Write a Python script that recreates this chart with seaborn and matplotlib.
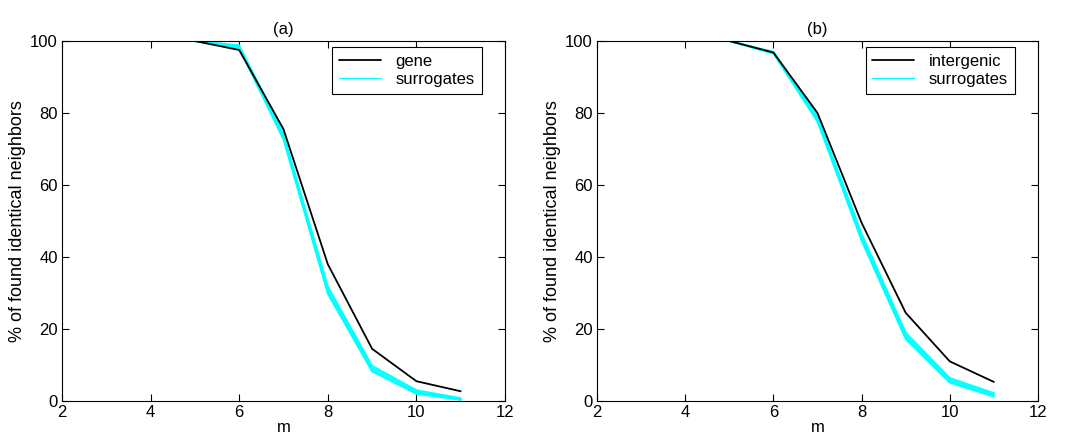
import matplotlib
matplotlib.use("Agg")
import matplotlib.pyplot as plt
from matplotlib.lines import Line2D
import seaborn as sns
import pandas as pd
import numpy as np

m = [2, 3, 4, 5, 6, 7, 8, 9, 10, 11]

gene = [100, 100, 100, 100, 97.5, 75.5, 38.0, 14.5, 5.5, 2.7]
gene_surr = [
    [100, 100, 100, 100, 98.8, 74.2, 31.8, 9.8, 3.0, 0.8],
    [100, 100, 100, 100, 98.5, 73.6, 31.0, 9.2, 2.6, 0.6],
    [100, 100, 100, 100, 98.2, 73.0, 30.2, 8.6, 2.2, 0.4],
    [100, 100, 100, 100, 98.0, 72.6, 29.8, 8.2, 2.0, 0.3],
]

inter = [100, 100, 100, 100, 96.8, 80.0, 49.5, 24.5, 11.0, 5.3]
inter_surr = [
    [100, 100, 100, 100, 97.0, 79.0, 46.5, 19.0, 6.4, 2.2],
    [100, 100, 100, 100, 96.8, 78.5, 45.7, 18.3, 5.9, 1.8],
    [100, 100, 100, 100, 96.6, 78.0, 45.0, 17.6, 5.4, 1.4],
    [100, 100, 100, 100, 96.5, 77.6, 44.5, 17.2, 5.1, 1.2],
]

panels = [
    ("(a)", "gene", gene, gene_surr),
    ("(b)", "intergenic", inter, inter_surr),
]

sns.set_style("ticks")
plt.rcParams['font.family'] = ['Liberation Sans', 'DejaVu Sans']
plt.rcParams['xtick.direction'] = 'in'
plt.rcParams['ytick.direction'] = 'in'
plt.rcParams['text.color'] = 'black'
plt.rcParams['axes.labelcolor'] = 'black'
plt.rcParams['xtick.color'] = 'black'
plt.rcParams['ytick.color'] = 'black'

fig = plt.figure(figsize=(10.67, 4.38), dpi=100)
W, H = 1067, 438
axes = [fig.add_axes([62 / W, 1 - 401 / H, 443 / W, 360 / H]),
        fig.add_axes([597 / W, 1 - 401 / H, 441 / W, 360 / H])]

FS = 12
for ax, (title, name, real, surr) in zip(axes, panels):
    for i, s in enumerate(surr):
        df = pd.DataFrame({"m": m, "v": s})
        sns.lineplot(data=df, x="m", y="v", ax=ax, color="#00FFFF", lw=1.3,
                     legend=False)
    df = pd.DataFrame({"m": m, "v": real})
    sns.lineplot(data=df, x="m", y="v", ax=ax, color="black", lw=1.3,
                 legend=False)
    ax.set_xlim(2, 12)
    ax.set_ylim(0, 100)
    ax.set_xticks([2, 4, 6, 8, 10, 12])
    ax.set_yticks([0, 20, 40, 60, 80, 100])
    ax.tick_params(labelsize=FS, length=5, width=0.8, top=True, right=True, pad=3)
    for sp in ax.spines.values():
        sp.set_visible(True)
        sp.set_linewidth(0.8)
        sp.set_color("black")
    ax.set_xlabel("m", fontsize=12, labelpad=0)
    ax.set_ylabel("% of found identical neighbors", fontsize=13, labelpad=3)
    ax.set_title(title, fontsize=FS, pad=5)
    handles = [Line2D([], [], color="black", lw=1.3),
               Line2D([], [], color="#00FFFF", lw=0.9)]
    leg = ax.legend(handles, [name, "surrogates"], loc="upper right",
                    bbox_to_anchor=(0.947, 0.983), fontsize=FS, frameon=True,
                    fancybox=False, edgecolor="black", framealpha=1,
                    handlelength=2.5, borderpad=0.4, labelspacing=0.2,
                    handletextpad=0.9, borderaxespad=0)
    leg.get_frame().set_linewidth(0.8)

fig.savefig("out.png", dpi=100)
